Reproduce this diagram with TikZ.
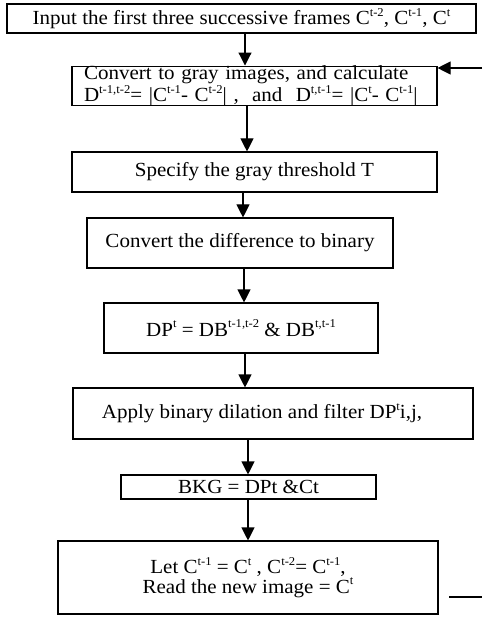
\documentclass[tikz,border=0pt]{standalone}
\usepackage{fontspec}
\setmainfont{Liberation Serif}[FakeStretch=1.05]
\usetikzlibrary{arrows.meta}
\newcommand{\ssup}[1]{\raisebox{0.42em}{\fontsize{12}{12}\selectfont #1}}
\begin{document}
\begin{tikzpicture}[x=1pt,y=-1pt,
  box/.style={draw, line width=1.1pt, inner sep=0pt, font=\fontsize{20}{16}\selectfont},
  arr/.style={line width=1.1pt, -{Triangle[length=13pt,width=13pt]}},
  ln/.style={line width=1.1pt}]
\useasboundingbox (0,0) rectangle (482,617);
\node[box, minimum width=469pt, minimum height=29pt] (b1) at (241.5,18.5)
  {Input the first three successive frames C\ssup{t-2}, C\ssup{t-1}, C\ssup{t}};
\node[box, minimum width=365pt, minimum height=38pt, inner xsep=12pt, text width=341pt, align=left] (b2) at (254.5,86)
  {Convert to gray images, and calculate\\D\ssup{t-1,t-2}= |C\ssup{t-1}- C\ssup{t-2}| ,~ and~ D\ssup{t,t-1}= |C\ssup{t}- C\ssup{t-1}|};
\node[box, minimum width=365pt, minimum height=40pt] (b3) at (254.5,172) {Specify the gray threshold T};
\node[box, minimum width=306pt, minimum height=50pt] (b4) at (240,243) {Convert the difference to binary};
\node[box, minimum width=274pt, minimum height=50pt] (b5) at (241,328) {DP\ssup{t} = DB\ssup{t-1,t-2} \& DB\ssup{t,t-1}};
\node[box, minimum width=400pt, minimum height=51pt] (b6) at (273,413.5) {Apply binary dilation and filter DP\ssup{t}i,j,\hspace*{22pt}};
\node[box, minimum width=255pt, minimum height=24pt] (b7) at (248.5,487) {BKG = DPt \&Ct};
\node[box, minimum width=380pt, minimum height=73pt, align=center] (b8) at (248,577.5)
  {Let C\ssup{t-1} = C\ssup{t} , C\ssup{t-2}= C\ssup{t-1},\\Read the new image = C\ssup{t}};
\coordinate (a1) at (245,0);
\coordinate (a2) at (247,0);
\coordinate (a3) at (243,0);
\coordinate (a4) at (244,0);
\coordinate (a5) at (245,0);
\coordinate (a6) at (248,0);
\coordinate (a7) at (248,0);
\draw[arr] (b1.south -| a1) -- (b2.north -| a1);
\draw[arr] (b2.south -| a2) -- (b3.north -| a2);
\draw[arr] (b3.south -| a3) -- (b4.north -| a3);
\draw[arr] (b4.south -| a4) -- (b5.north -| a4);
\draw[arr] (b5.south -| a5) -- (b6.north -| a5);
\draw[arr] (b6.south -| a6) -- (b7.north -| a6);
\draw[arr] (b7.south -| a7) -- (b8.north -| a7);
\coordinate (fb1) at (449,597);
\coordinate (fb2) at (482,597);
\draw[ln] (fb1) -- (fb2);
\coordinate (ft) at (482,68);
\draw[arr] (ft) -- (ft -| b2.east);
\end{tikzpicture}
\end{document}
